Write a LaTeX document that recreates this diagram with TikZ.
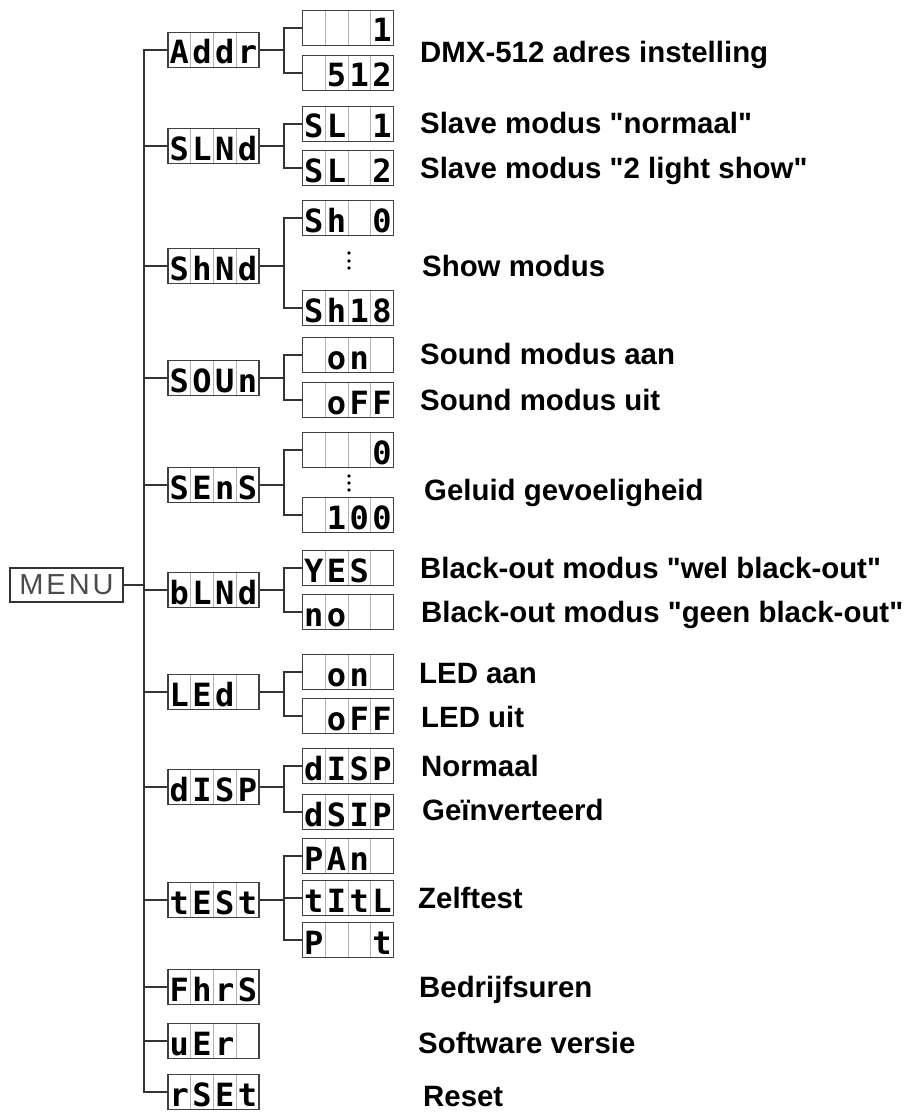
\documentclass[tikz,border=0pt]{standalone}
\usepackage{fontspec}
\setmainfont{Liberation Sans}
\newfontfamily\lcdfont{DejaVu Sans Mono}
\newfontfamily\menufont[LetterSpace=10]{Liberation Sans}

\tikzset{
  lcdbox/.style={draw=black!75, line width=1.3pt, minimum width=91pt, minimum height=35pt, inner sep=0pt},
  lcddiv/.style={draw=black!30, line width=1pt},
  lcdchar/.style={anchor=base, inner sep=0pt, font=\lcdfont\fontsize{32}{32}\selectfont\bfseries},
  desc/.style={anchor=base west, inner sep=0pt, font=\fontsize{29.4}{30}\selectfont\bfseries},
  conn/.style={draw=black!80, line width=1.2pt},
}

% one display: name, x, y, four cells
\newcommand{\lcd}[7]{%
  \node[lcdbox] (#1) at (#2,#3) {};
  \foreach \k in {1,2,3}
    \draw[lcddiv] (#2-45.5+\k*22.75,#3-17) -- (#2-45.5+\k*22.75,#3+17);
  \foreach \k/\c in {1/#4,2/#5,3/#6,4/#7}
    \node[lcdchar] (#1-\k) at (#2-45.5+\k*22.75-11.375,#3+14) {\c};
}
\newcommand{\qt}{\textquotedbl}

\begin{document}
\begin{tikzpicture}[x=1pt, y=-1pt]
    \useasboundingbox (0,0) rectangle (907,1113);

    % Root
    \node[draw=black!80, line width=1.2pt, minimum width=113pt, minimum height=34pt,
          inner sep=0pt, text=black!70, font=\menufont\fontsize{29}{30}\selectfont] (menu) at (66.5,585) {MENU};

    % Main menu
    \lcd{addr}{213.5}{50}{A}{d}{d}{r}
    \lcd{slnd}{213.5}{146}{S}{L}{N}{d}
    \lcd{shnd}{213.5}{266}{S}{h}{N}{d}
    \lcd{soun}{213.5}{378}{S}{O}{U}{n}
    \lcd{sens}{213.5}{485}{S}{E}{n}{S}
    \lcd{blnd}{213.5}{590}{b}{L}{N}{d}
    \lcd{led}{213.5}{692}{L}{E}{d}{}
    \lcd{disp}{213.5}{787}{d}{I}{S}{P}
    \lcd{test}{213.5}{900}{t}{E}{S}{t}
    \lcd{fhrs}{213.5}{987}{F}{h}{r}{S}
    \lcd{ver}{213.5}{1041}{u}{E}{r}{}
    \lcd{rset}{213.5}{1092}{r}{S}{E}{t}

    % Sub menus
    \lcd{addrlo}{348}{28}{}{}{}{1}
    \lcd{addrhi}{348}{73}{}{5}{1}{2}
    \lcd{slone}{348}{124}{S}{L}{}{1}
    \lcd{sltwo}{348}{168}{S}{L}{}{2}
    \lcd{shfirst}{348}{218}{S}{h}{}{0}
    \lcd{shlast}{348}{308}{S}{h}{1}{8}
    \lcd{sounon}{348}{355}{}{o}{n}{}
    \lcd{sounoff}{348}{400}{}{o}{F}{F}
    \lcd{senslo}{348}{450}{}{}{}{0}
    \lcd{senshi}{348}{515}{}{1}{0}{0}
    \lcd{blyes}{348}{568}{Y}{E}{S}{}
    \lcd{blno}{348}{612}{n}{o}{}{}
    \lcd{ledon}{348}{672}{}{o}{n}{}
    \lcd{ledoff}{348}{716}{}{o}{F}{F}
    \lcd{dispnorm}{348}{766}{d}{I}{S}{P}
    \lcd{dispinv}{348}{812}{d}{S}{I}{P}
    \lcd{tpan}{348}{856}{P}{A}{n}{}
    \lcd{ttilt}{348}{898}{t}{I}{t}{L}
    \lcd{tpt}{348}{940}{P}{}{}{t}

    % Ranges
    \foreach \y in {253,261,268} \fill (349,\y) circle (1.8pt);
    \foreach \y in {476,483,490} \fill (349,\y) circle (1.8pt);

    % Trunk
    \coordinate (trunk) at (144,0);
    \coordinate (fork) at (284,0);
    \draw[conn] (menu.east) -- (menu.east -| trunk);
    \draw[conn] (addr.west) -- (addr.west -| trunk) |- (rset.west);
    \foreach \n in {slnd,shnd,soun,sens,blnd,led,disp,test,fhrs,ver}
        \draw[conn] (\n.west) -- (\n.west -| trunk);

    % Forks
    \foreach \p/\a/\b in {addr/addrlo/addrhi, slnd/slone/sltwo, shnd/shfirst/shlast,
                          soun/sounon/sounoff, sens/senslo/senshi, blnd/blyes/blno,
                          led/ledon/ledoff, disp/dispnorm/dispinv, test/tpan/tpt} {
        \draw[conn] (\p.east) -- (\p.east -| fork);
        \draw[conn] (\a.west) -- (\a.west -| fork) |- (\b.west);
    }
    \draw[conn] (ttilt.west) -- (ttilt.west -| fork);

    % Descriptions
    \node[desc] (dmx) at (420,63) {DMX-512 adres instelling};
    \node[desc] (slnormal) at (420,133) {Slave modus \qt normaal\qt};
    \node[desc] (sllight) at (420,178) {Slave modus \qt 2 light show\qt};
    \node[desc] (show) at (422,276) {Show modus};
    \node[desc] (soundon) at (420,364) {Sound modus aan};
    \node[desc] (soundoff) at (420,410) {Sound modus uit};
    \node[desc] (sense) at (424,500) {Geluid gevoeligheid};
    \node[desc] (blackwel) at (420,578) {Black-out modus \qt wel black-out\qt};
    \node[desc] (blackgeen) at (421,622) {Black-out modus \qt geen black-out\qt};
    \node[desc] (ledaan) at (419,683) {LED aan};
    \node[desc] (leduit) at (421,727) {LED uit};
    \node[desc] (normaal) at (421,776) {Normaal};
    \node[desc] (inverted) at (422,820) {Geïnverteerd};
    \node[desc] (selftest) at (418,908) {Zelftest};
    \node[desc] (hours) at (419,997) {Bedrijfsuren};
    \node[desc] (software) at (418,1053) {Software versie};
    \node[desc] (reset) at (423,1106) {Reset};
\end{tikzpicture}
\end{document}
